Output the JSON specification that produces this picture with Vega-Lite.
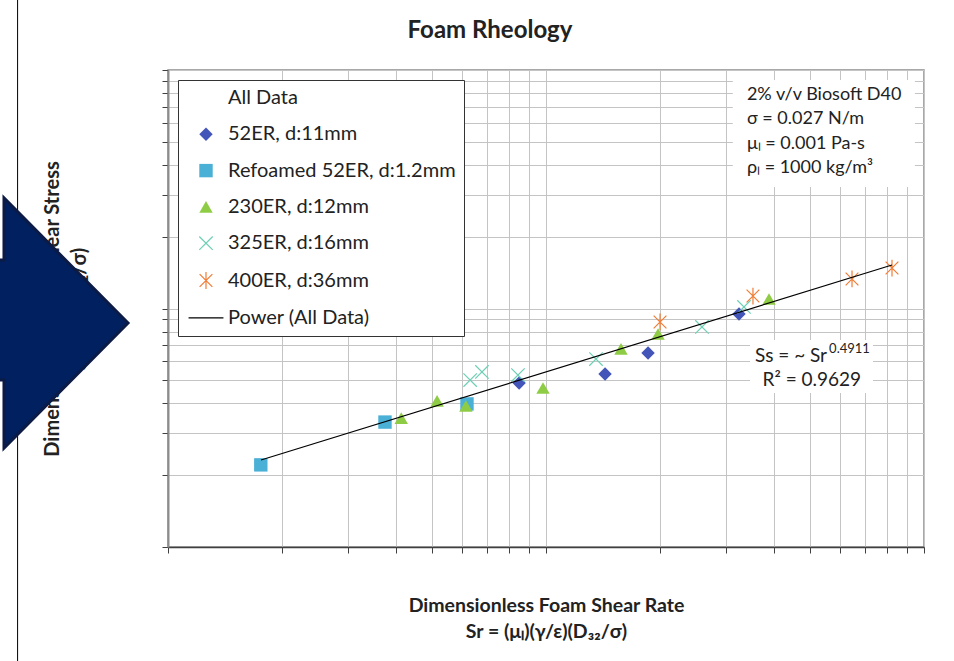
{
  "$schema": "https://vega.github.io/schema/vega-lite/v6.json",
  "width": 756,
  "height": 477,
  "autosize": "none",
  "padding": {"left": 168, "top": 70, "right": 30, "bottom": 114},
  "background": "white",
  "title": {"text": "Foam Rheology", "frame": "group", "anchor": "middle", "dx": -56, "offset": -44, "font": "Lato", "fontSize": 24, "fontWeight": "bold", "color": "#222222"},
  "datasets": {
    "points": [
      {"series": "52ER, d:11mm", "sr": 8.49, "ss": 4.87},
      {"series": "52ER, d:11mm", "sr": 14.33, "ss": 5.31},
      {"series": "52ER, d:11mm", "sr": 18.62, "ss": 6.51},
      {"series": "52ER, d:11mm", "sr": 32.40, "ss": 9.48},
      {"series": "Refoamed 52ER, d:1.2mm", "sr": 1.76, "ss": 2.21},
      {"series": "Refoamed 52ER, d:1.2mm", "sr": 3.75, "ss": 3.34},
      {"series": "Refoamed 52ER, d:1.2mm", "sr": 6.18, "ss": 3.98},
      {"series": "230ER, d:12mm", "sr": 4.14, "ss": 3.47},
      {"series": "230ER, d:12mm", "sr": 5.15, "ss": 4.10},
      {"series": "230ER, d:12mm", "sr": 6.14, "ss": 3.90},
      {"series": "230ER, d:12mm", "sr": 9.82, "ss": 4.64},
      {"series": "230ER, d:12mm", "sr": 15.79, "ss": 6.77},
      {"series": "230ER, d:12mm", "sr": 19.79, "ss": 7.82},
      {"series": "230ER, d:12mm", "sr": 38.90, "ss": 10.96},
      {"series": "325ER, d:16mm", "sr": 6.30, "ss": 5.01},
      {"series": "325ER, d:16mm", "sr": 6.77, "ss": 5.42},
      {"series": "325ER, d:16mm", "sr": 8.43, "ss": 5.26},
      {"series": "325ER, d:16mm", "sr": 13.56, "ss": 6.14},
      {"series": "325ER, d:16mm", "sr": 25.86, "ss": 8.37},
      {"series": "325ER, d:16mm", "sr": 33.40, "ss": 10.15},
      {"series": "400ER, d:36mm", "sr": 20.03, "ss": 8.78},
      {"series": "400ER, d:36mm", "sr": 35.28, "ss": 11.28},
      {"series": "400ER, d:36mm", "sr": 64.50, "ss": 13.30},
      {"series": "400ER, d:36mm", "sr": 82.29, "ss": 14.78}
    ],
    "trend": [
      {"sr": 1.762, "ss": 2.316},
      {"sr": 82.29, "ss": 15.22}
    ]
  },
  "config": {
    "view": {"stroke": "#8C8C8C", "strokeWidth": 1.5},
    "axisX": {
      "labels": false, "grid": true, "gridColor": "#C4C4C4", "gridWidth": 1,
      "ticks": true, "tickSize": 6, "tickColor": "#404040", "tickWidth": 1,
      "domainColor": "#404040", "domainWidth": 1.5,
      "titleFont": "Lato", "titleFontSize": 19.5, "titleFontWeight": "bold", "titleColor": "#222222",
      "titlePadding": 43, "titleLineHeight": 26
    },
    "axisY": {
      "labels": false, "grid": true, "gridColor": "#C4C4C4", "gridWidth": 1,
      "ticks": true, "tickSize": 6, "tickColor": "#404040", "tickWidth": 1,
      "domainColor": "#8C8C8C", "domainWidth": 2,
      "titleFont": "Lato", "titleFontSize": 20, "titleFontWeight": "bold", "titleColor": "#222222",
      "titlePadding": 72, "titleLineHeight": 27
    },
    "legend": {
      "orient": "top-left",
      "offset": 10,
      "padding": 8,
      "symbolOffset": 10,
      "labelOffset": 12,
      "rowPadding": 16.3,
      "labelFont": "Lato",
      "labelFontSize": 20,
      "labelColor": "#222222",
      "labelLimit": 400,
      "strokeColor": "#333333",
      "fillColor": "white",
      "symbolSize": 180,
      "symbolStrokeWidth": 1.2,
      "symbolOpacity": 1
    }
  },
  "layer": [
    {
      "data": {"name": "points"},
      "mark": {"type": "point", "size": 180, "opacity": 1, "strokeWidth": 1.2},
      "encoding": {
        "x": {"field": "sr", "type": "quantitative", "scale": {"type": "log", "domain": [1, 100], "nice": false}, "title": ["Dimensionless Foam Shear Rate", "Sr = (μₗ)(γ/ε)(D₃₂/σ)"]},
        "y": {"field": "ss", "type": "quantitative", "scale": {"type": "log", "domain": [1, 100], "nice": false}, "title": ["Dimensionless Foam Shear Stress", "Ss = (τ)(D₃₂/σ)"]},
        "shape": {
          "field": "series", "type": "nominal",
          "scale": {
            "domain": ["All Data", "52ER, d:11mm", "Refoamed 52ER, d:1.2mm", "230ER, d:12mm", "325ER, d:16mm", "400ER, d:36mm", "Power (All Data)"],
            "range": ["circle", "diamond", "square", "triangle-up", "M-1,-1L1,1M-1,1L1,-1", "M-0.95,-0.95L0.95,0.95M-0.95,0.95L0.95,-0.95M0,-1.25L0,1.25", "M-2.6,0H2.6"]
          },
          "legend": {"title": null}
        },
        "fill": {
          "field": "series", "type": "nominal",
          "scale": {
            "domain": ["All Data", "52ER, d:11mm", "Refoamed 52ER, d:1.2mm", "230ER, d:12mm", "325ER, d:16mm", "400ER, d:36mm", "Power (All Data)"],
            "range": ["transparent", "#4355B8", "#4BB0D6", "#8FCC45", "transparent", "transparent", "transparent"]
          },
          "legend": {"title": null}
        },
        "stroke": {
          "field": "series", "type": "nominal",
          "scale": {
            "domain": ["All Data", "52ER, d:11mm", "Refoamed 52ER, d:1.2mm", "230ER, d:12mm", "325ER, d:16mm", "400ER, d:36mm", "Power (All Data)"],
            "range": ["transparent", "transparent", "transparent", "transparent", "#6DCFB4", "#F07C35", "#000000"]
          },
          "legend": {"title": null}
        }
      }
    },
    {
      "data": {"values": [{}]},
      "mark": {"type": "rule", "color": "#000000", "strokeWidth": 1, "clip": false},
      "encoding": {
        "x": {"datum": 0.4, "type": "quantitative", "title": ["Dimensionless Foam Shear Rate", "Sr = (μₗ)(γ/ε)(D₃₂/σ)"]},
        "y": {"datum": 196.6, "type": "quantitative", "title": ["Dimensionless Foam Shear Stress", "Ss = (τ)(D₃₂/σ)"]},
        "y2": {"datum": 0.3}
      }
    },
    {
      "data": {"values": [{}]},
      "mark": {"type": "rect", "fill": "white", "stroke": null},
      "encoding": {
        "x": {"datum": 31.2, "type": "quantitative", "title": ["Dimensionless Foam Shear Rate", "Sr = (μₗ)(γ/ε)(D₃₂/σ)"]},
        "x2": {"datum": 94.6},
        "y": {"datum": 90.8, "type": "quantitative", "title": ["Dimensionless Foam Shear Stress", "Ss = (τ)(D₃₂/σ)"]},
        "y2": {"datum": 32.3}
      }
    },
    {
      "data": {"values": [{}]},
      "mark": {"type": "rect", "fill": "white", "stroke": null},
      "encoding": {
        "x": {"datum": 34.65, "type": "quantitative", "title": ["Dimensionless Foam Shear Rate", "Sr = (μₗ)(γ/ε)(D₃₂/σ)"]},
        "x2": {"datum": 73.3},
        "y": {"datum": 7.38, "type": "quantitative", "title": ["Dimensionless Foam Shear Stress", "Ss = (τ)(D₃₂/σ)"]},
        "y2": {"datum": 4.42}
      }
    },
    {
      "data": {"name": "trend"},
      "mark": {"type": "line", "color": "#000000", "strokeWidth": 1.2},
      "encoding": {
        "x": {"field": "sr", "type": "quantitative", "title": ["Dimensionless Foam Shear Rate", "Sr = (μₗ)(γ/ε)(D₃₂/σ)"]},
        "y": {"field": "ss", "type": "quantitative", "title": ["Dimensionless Foam Shear Stress", "Ss = (τ)(D₃₂/σ)"]}
      }
    },
    {
      "data": {"values": [{}]},
      "mark": {"type": "text", "text": ["2% v/v Biosoft D40", "σ = 0.027 N/m", "μₗ = 0.001 Pa-s", "ρₗ = 1000 kg/m³"], "align": "left", "baseline": "middle", "lineHeight": 24.5, "font": "Lato", "fontSize": 18, "color": "#222222"},
      "encoding": {
        "x": {"datum": 34.0, "type": "quantitative", "title": ["Dimensionless Foam Shear Rate", "Sr = (μₗ)(γ/ε)(D₃₂/σ)"]},
        "y": {"datum": 78.56, "type": "quantitative", "title": ["Dimensionless Foam Shear Stress", "Ss = (τ)(D₃₂/σ)"]}
      }
    },
    {
      "data": {"values": [{}]},
      "mark": {"type": "text", "text": "Ss = ~ Sr", "align": "right", "baseline": "middle", "font": "Lato", "fontSize": 19, "color": "#222222"},
      "encoding": {
        "x": {"datum": 55.4, "type": "quantitative", "title": ["Dimensionless Foam Shear Rate", "Sr = (μₗ)(γ/ε)(D₃₂/σ)"]},
        "y": {"datum": 6.32, "type": "quantitative", "title": ["Dimensionless Foam Shear Stress", "Ss = (τ)(D₃₂/σ)"]}
      }
    },
    {
      "data": {"values": [{}]},
      "mark": {"type": "text", "text": "0.4911", "align": "left", "baseline": "middle", "font": "Lato", "fontSize": 13, "color": "#222222"},
      "encoding": {
        "x": {"datum": 56.1, "type": "quantitative", "title": ["Dimensionless Foam Shear Rate", "Sr = (μₗ)(γ/ε)(D₃₂/σ)"]},
        "y": {"datum": 6.77, "type": "quantitative", "title": ["Dimensionless Foam Shear Stress", "Ss = (τ)(D₃₂/σ)"]}
      }
    },
    {
      "data": {"values": [{}]},
      "mark": {"type": "text", "text": "R² = 0.9629", "align": "center", "baseline": "middle", "font": "Lato", "fontSize": 19, "color": "#222222"},
      "encoding": {
        "x": {"datum": 50.5, "type": "quantitative", "title": ["Dimensionless Foam Shear Rate", "Sr = (μₗ)(γ/ε)(D₃₂/σ)"]},
        "y": {"datum": 5.01, "type": "quantitative", "title": ["Dimensionless Foam Shear Stress", "Ss = (τ)(D₃₂/σ)"]}
      }
    },
    {
      "data": {"values": [{}]},
      "mark": {"type": "point", "shape": "M-0.75,-0.504L-0.48,-0.504L-0.48,-1L0.512,0L-0.48,1L-0.48,0.456L-0.75,0.456Z", "size": 62500, "filled": true, "fill": "#002060", "stroke": "#0C1B45", "strokeWidth": 3, "opacity": 1, "clip": false},
      "encoding": {
        "x": {"datum": 0.5307, "type": "quantitative", "title": ["Dimensionless Foam Shear Rate", "Sr = (μₗ)(γ/ε)(D₃₂/σ)"]},
        "y": {"datum": 8.695, "type": "quantitative", "title": ["Dimensionless Foam Shear Stress", "Ss = (τ)(D₃₂/σ)"]}
      }
    }
  ]
}
